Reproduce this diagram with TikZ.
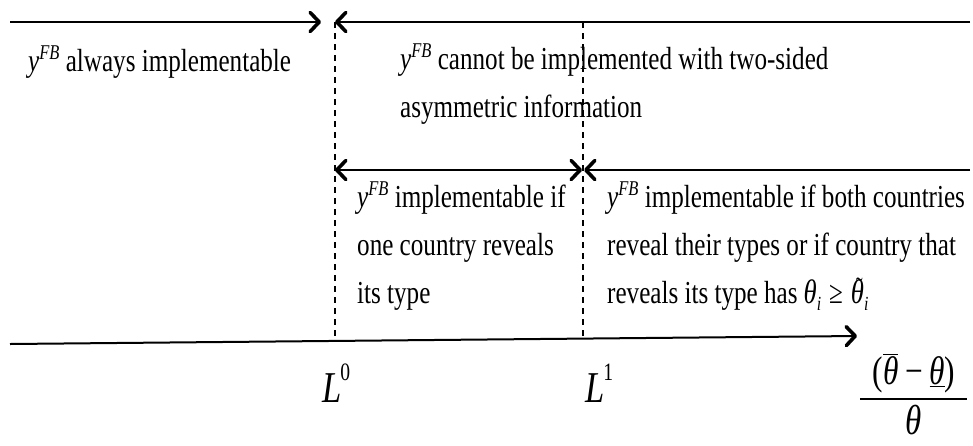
\documentclass[tikz,border=0pt]{standalone}
\usepackage{fontspec}
\setmainfont{Liberation Serif}[FakeStretch=0.785]
\usetikzlibrary{arrows.meta}
\newcommand\yfb{{\itshape y}\raisebox{0.36em}{\fontsize{21}{21}\selectfont\itshape FB}}
\newcommand\thv{{\itshape θ}}
\newcommand\subi{\raisebox{-0.22em}{\fontsize{20}{20}\selectfont\itshape i}}
\newcommand\tthv{\makebox[0pt][l]{\hspace{5pt}\raisebox{8pt}{\fontsize{26}{26}\selectfont\upshape\char"02DC}}\thv}
\begin{document}
\begin{tikzpicture}[x=1pt,y=-1pt,
  lbl/.style={anchor=base west,inner sep=0pt,font=\fontsize{32}{48}\selectfont},
  mathlbl/.style={anchor=base west,inner sep=0pt,font=\fontsize{44}{44}\selectfont},
  tip/.tip={Straight Barb[length=9pt,width=19pt,line width=3.6pt,round]},
  arr/.style={line width=2pt,-tip},
  dblarr/.style={line width=2pt,tip-tip},
  guide/.style={line width=1.2pt,dash pattern=on 6pt off 5pt}]
\useasboundingbox (0,0) rectangle (973,445);
% coordinates
\coordinate (tl) at (10,22);
\coordinate (ttipR) at (321,22);
\coordinate (tr) at (970,22);
\coordinate (ttipL) at (335,22);
\coordinate (mA) at (335,170);
\coordinate (mB) at (582,170);
\coordinate (mC) at (584,170);
\coordinate (mR) at (970,170);
\coordinate (d0top) at (335,22);
\coordinate (d1top) at (583,22);
\coordinate (axL) at (10,344);
\coordinate (axR) at (857,336);
\coordinate (d0bot) at (335,341);
\coordinate (d1bot) at (583,339);
% arrows
\draw[arr] (tl) -- (ttipR);
\draw[arr] (tr) -- (ttipL);
\draw[dblarr] (mA) -- (mB);
\draw[arr] (mR) -- (mC);
\draw[arr] (axL) -- (axR);
\draw[guide] (d0top) -- (d0bot);
\draw[guide] (d1top) -- (d1bot);
% texts
\node[lbl] (t1) at (28,71) {\yfb\ always implementable};
\node[lbl] (t2a) at (400,69) {\yfb\ cannot be implemented with two-sided};
\node[lbl] (t2b) at (400,117) {asymmetric information};
\node[lbl] (t3a) at (357,207) {\yfb\ implementable if};
\node[lbl] (t3b) at (357,255) {one country reveals};
\node[lbl] (t3c) at (357,303) {its type};
\node[lbl] (t4a) at (607,207) {\yfb\ implementable if both countries};
\node[lbl] (t4b) at (607,255) {reveal their types or if country that};
\node[lbl] (t4c) at (607,303) {reveals its type has\hspace{6pt}{\fontsize{34}{34}\selectfont\thv}\subi\hspace{8pt}≥\hspace{8pt}{\fontsize{34}{34}\selectfont\tthv}\subi};
\node[mathlbl] (L0) at (322,402) {\itshape L\kern-1pt\raisebox{0.5em}{\fontsize{25}{25}\selectfont\upshape 0}};
\node[mathlbl] (L1) at (585,402) {\itshape L\kern-1pt\raisebox{0.5em}{\fontsize{25}{25}\selectfont\upshape 1}};
\node[anchor=base,inner sep=0pt,font=\fontsize{40}{40}\selectfont] (num) at (914,384) {($\overline{\hbox{\thv}}$\,−\,$\underline{\hbox{\thv}}$)};
\node[anchor=base,inner sep=0pt,font=\fontsize{42}{42}\selectfont] (den) at (914,434) {\thv};
\draw[line width=1.5pt] (860,399) coordinate (fbL) -- (967,399) coordinate (fbR);
\end{tikzpicture}
\end{document}
